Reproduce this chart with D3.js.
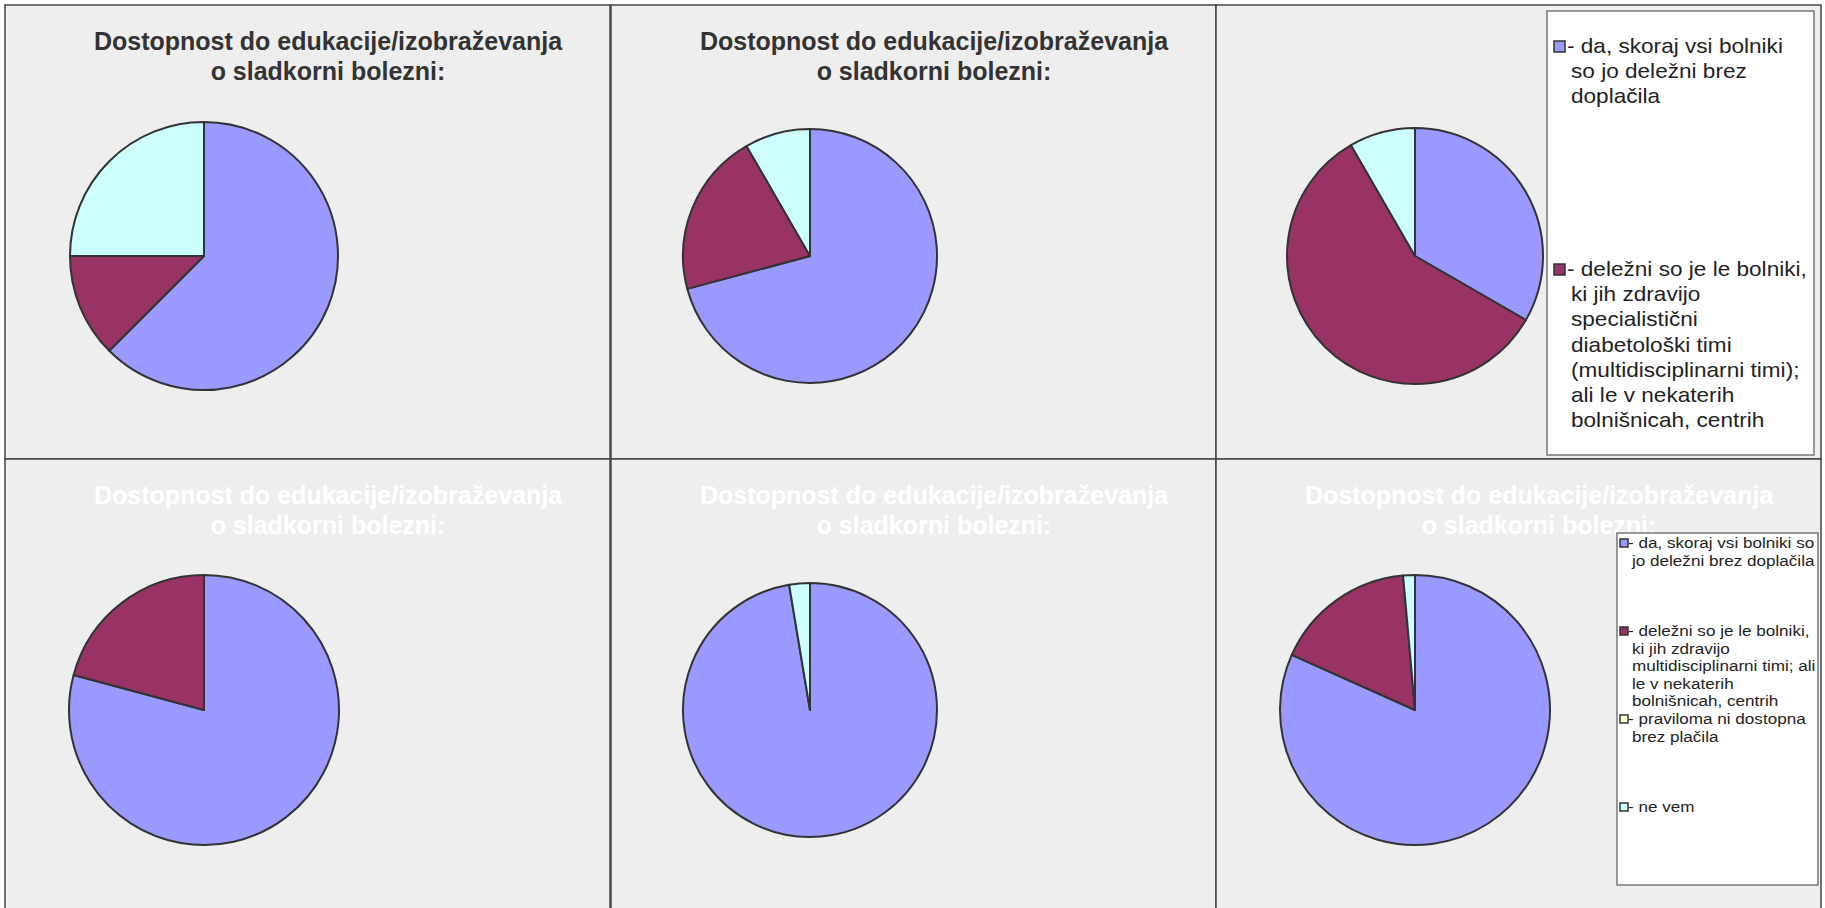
<!DOCTYPE html>
<html>
<head>
<meta charset="utf-8">
<script src="https://cdn.jsdelivr.net/npm/d3@7"></script>
<style>
  body { margin: 0; background: #ffffff; }
  svg { display: block; font-family: "Liberation Sans", Arial, sans-serif; }
</style>
</head>
<body>
<svg id="chart"></svg>
<script>
// answer categories (slice order, clockwise from 12 o'clock)
const categories = ["da", "delezni", "praviloma", "neVem"];
const sliceColors = ["#9999ff", "#993366", "#ffffcc", "#ccffff"];

// counts per panel, same order as categories
const panel1Values = [5, 1, 0, 2];
const panel2Values = [17, 5, 0, 2];
const panel3Values = [4, 7, 0, 1];
const panel4Values = [19, 5, 0, 0];
const panel5Values = [37, 0, 0, 1];
const panel6Values = [58, 12, 0, 1];

const titleLines = ["Dostopnost do edukacije/izobraževanja", "o sladkorni bolezni:"];

// legend labels, already wrapped as in the picture
const wideLegendLabels = [
  ["- da, skoraj vsi bolniki", "so jo deležni brez", "doplačila"],
  ["- deležni so je le bolniki,", "ki jih zdravijo", "specialistični", "diabetološki timi",
   "(multidisciplinarni timi);", "ali le v nekaterih", "bolnišnicah, centrih"],
  ["- praviloma ni dostopna", "brez plačila"],
  ["- ne vem"]
];
const narrowLegendLabels = [
  ["- da, skoraj vsi bolniki so", "jo deležni brez doplačila"],
  ["- deležni so je le bolniki,", "ki jih zdravijo", "multidisciplinarni timi; ali",
   "le v nekaterih", "bolnišnicah, centrih"],
  ["- praviloma ni dostopna", "brez plačila"],
  ["- ne vem"]
];

// layout
const width = 1825, height = 908;
const colX = [5, 611, 1216], rowY = [5, 459];
const cellW = 605, cellH = 454;

const panels = [
  {values: panel1Values, col: 0, row: 0, r: 134, title: "#333333"},
  {values: panel2Values, col: 1, row: 0, r: 127, title: "#333333"},
  {values: panel3Values, col: 2, row: 0, r: 128, title: null},
  {values: panel4Values, col: 0, row: 1, r: 135, title: "#ffffff"},
  {values: panel5Values, col: 1, row: 1, r: 127, title: "#ffffff"},
  {values: panel6Values, col: 2, row: 1, r: 135, title: "#ffffff"}
];

const svg = d3.select('#chart')
    .attr('width', width)
    .attr('height', height);

const color = d3.scaleOrdinal().domain(categories).range(sliceColors);

const pie = d3.pie().sort(null).value(d => d.value);

panels.forEach(p => {
  const x0 = colX[p.col], y0 = rowY[p.row];

  svg.append('rect')
      .attr('x', x0).attr('y', y0)
      .attr('width', cellW).attr('height', cellH)
      .attr('fill', '#eeeeee')
      .attr('stroke', '#444')
      .attr('stroke-width', 1.5);

  if (p.title) {
    svg.append('text')
        .attr('x', x0 + 323)
        .attr('text-anchor', 'middle')
        .attr('font-size', 25)
        .attr('font-weight', 'bold')
        .attr('fill', p.title)
        .selectAll('tspan')
        .data(titleLines)
      .join('tspan')
        .attr('x', x0 + 323)
        .attr('y', (d, i) => y0 + 45 + i * 30)
        .text(d => d);
  }

  const arc = d3.arc().innerRadius(0).outerRadius(p.r);
  const data = categories.map((c, i) => ({key: c, value: p.values[i]}));

  svg.append('g')
      .attr('transform', `translate(${x0 + 199},${y0 + 251})`)
    .selectAll('path')
      .data(pie(data).filter(d => d.value > 0))
    .join('path')
      .attr('d', arc)
      .attr('fill', d => color(d.data.key))
      .attr('stroke', '#333')
      .attr('stroke-width', 2)
      .attr('stroke-linejoin', 'round');
});

// legend helper
function drawLegend(cfg, labels) {
  const clipId = 'clip-' + cfg.id;
  svg.append('clipPath').attr('id', clipId)
    .append('rect')
      .attr('x', cfg.x).attr('y', cfg.y)
      .attr('width', cfg.w).attr('height', cfg.h);

  svg.append('rect')
      .attr('x', cfg.x).attr('y', cfg.y)
      .attr('width', cfg.w).attr('height', cfg.h)
      .attr('fill', '#ffffff')
      .attr('stroke', '#777')
      .attr('stroke-width', 1.5);

  const g = svg.append('g').attr('clip-path', `url(#${clipId})`);

  labels.forEach((lines, k) => {
    const base = cfg.firstBase + k * cfg.itemStep;
    g.append('rect')
        .attr('x', cfg.markerX)
        .attr('y', base - cfg.marker - 1)
        .attr('width', cfg.marker).attr('height', cfg.marker)
        .attr('fill', sliceColors[k])
        .attr('stroke', '#333')
        .attr('stroke-width', 1.5);

    lines.forEach((line, i) => {
      const tx = i === 0 ? cfg.textX : cfg.textX + 4;
      g.append('text')
          .attr('transform', `translate(${tx},${base + i * cfg.lineStep}) scale(${cfg.stretch},1)`)
          .attr('font-size', cfg.fontSize)
          .attr('fill', '#222')
          .text(line);
    });
  });
}

drawLegend({id: 'wide', x: 1547, y: 11, w: 267, h: 444, markerX: 1554, marker: 11,
            textX: 1567, firstBase: 53, itemStep: 223, lineStep: 25.2,
            fontSize: 20, stretch: 1.13}, wideLegendLabels);

drawLegend({id: 'narrow', x: 1617, y: 533, w: 201, h: 352, markerX: 1620, marker: 8,
            textX: 1628, firstBase: 548, itemStep: 88, lineStep: 17.5,
            fontSize: 15, stretch: 1.14}, narrowLegendLabels);
</script>
</body>
</html>
